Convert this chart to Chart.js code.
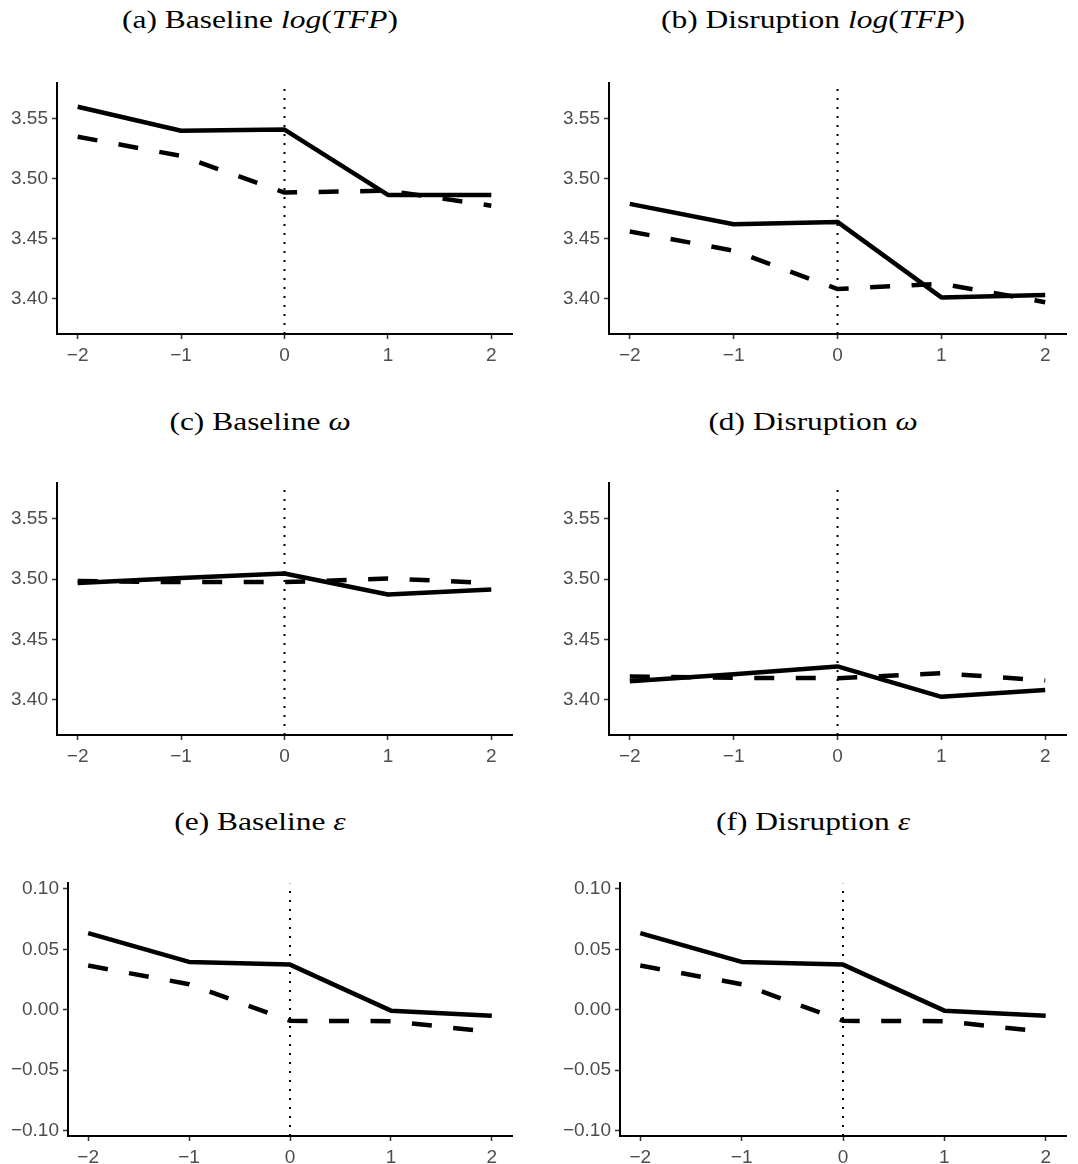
<!DOCTYPE html>
<html>
<head>
<meta charset="utf-8">
<script src="https://cdn.jsdelivr.net/npm/chart.js@4"></script>
<style>
  body { margin: 0; width: 1078px; height: 1164px; overflow: hidden; background: #fff; position: relative; }
  canvas { position: absolute; }
  .title { position: absolute; font-family: "Liberation Serif", serif; font-size: 26px; color: #000; white-space: nowrap; transform: translateX(-50%) scaleX(1.21); line-height: 30px; }
</style>
</head>
<body>
<script>
// event time
const eventTime = [-2, -1, 0, 1, 2]

// (a) baseline log(TFP)
const baseTfpSolid = [3.560, 3.540, 3.541, 3.4865, 3.4865]
const baseTfpDashed = [3.535, 3.519, 3.4885, 3.490, 3.4775]
// (b) disruption log(TFP)
const disrTfpSolid = [3.479, 3.462, 3.464, 3.401, 3.403]
const disrTfpDashed = [3.456, 3.440, 3.408, 3.4125, 3.397]
// (c) baseline omega
const baseOmegaSolid = [3.4967, 3.501, 3.5046, 3.4872, 3.4913]
const baseOmegaDashed = [3.4984, 3.4975, 3.4975, 3.5005, 3.4967]
// (d) disruption omega
const disrOmegaSolid = [3.4152, 3.421, 3.4275, 3.4022, 3.4079]
const disrOmegaDashed = [3.419, 3.418, 3.4177, 3.4218, 3.4157]
// (e) baseline epsilon
const baseEpsSolid = [0.0633, 0.0395, 0.0373, -0.0008, -0.0051]
const baseEpsDashed = [0.0365, 0.0211, -0.0092, -0.0095, -0.0185]
// (f) disruption epsilon
const disrEpsSolid = [0.0633, 0.0395, 0.0373, -0.0008, -0.0051]
const disrEpsDashed = [0.0365, 0.0211, -0.0092, -0.0095, -0.0185]

// tick labels
const xTicks = [-2, -1, 0, 1, 2]
const levelTicks = [3.40, 3.45, 3.50, 3.55]
const epsTicks = [-0.10, -0.05, 0.00, 0.05, 0.10]
const levelRange = [3.3705, 3.5795]
const epsRange = [-0.1045, 0.1045]

const panels = [
  { title: '(a) Baseline <i>log</i>(<i>TFP</i>)', solid: baseTfpSolid, dashed: baseTfpDashed, ticks: levelTicks, range: levelRange,
    box: { x0: 0, l: 57, r: 512, t: 78, b: 334 }, tx: 260, ty: 5 },
  { title: '(b) Disruption <i>log</i>(<i>TFP</i>)', solid: disrTfpSolid, dashed: disrTfpDashed, ticks: levelTicks, range: levelRange,
    box: { x0: 540, l: 609, r: 1066, t: 78, b: 334 }, tx: 813, ty: 5 },
  { title: '(c) Baseline <i>ω</i>', solid: baseOmegaSolid, dashed: baseOmegaDashed, ticks: levelTicks, range: levelRange,
    box: { x0: 0, l: 57, r: 512, t: 478, b: 735 }, tx: 260, ty: 407 },
  { title: '(d) Disruption <i>ω</i>', solid: disrOmegaSolid, dashed: disrOmegaDashed, ticks: levelTicks, range: levelRange,
    box: { x0: 540, l: 609, r: 1066, t: 478, b: 735 }, tx: 813, ty: 407 },
  { title: '(e) Baseline <i>ε</i>', solid: baseEpsSolid, dashed: baseEpsDashed, ticks: epsTicks, range: epsRange,
    box: { x0: 0, l: 68, r: 512, t: 878, b: 1136 }, tx: 260, ty: 807 },
  { title: '(f) Disruption <i>ε</i>', solid: disrEpsSolid, dashed: disrEpsDashed, ticks: epsTicks, range: epsRange,
    box: { x0: 540, l: 620, r: 1066, t: 878, b: 1136 }, tx: 813, ty: 807 }
]

const fmtNum = (v, d) => (v < 0 ? '\u2212' : '') + Math.abs(v).toFixed(d)
const pad = 10
const xAxisH = 28

panels.forEach(p => {
  const t = document.createElement('div')
  t.className = 'title'
  t.innerHTML = p.title
  t.style.left = p.tx + 'px'
  t.style.top = p.ty + 'px'
  document.body.appendChild(t)

  const b = p.box
  const c = document.createElement('canvas')
  const w = b.r - b.x0 + pad, h = b.b + xAxisH - (b.t - pad)
  c.width = w; c.height = h
  c.style.left = b.x0 + 'px'; c.style.top = (b.t - pad) + 'px'
  c.style.width = w + 'px'; c.style.height = h + 'px'
  document.body.appendChild(c)

  const pts = arr => eventTime.map((x, i) => ({ x: x, y: arr[i] }))
  const axisFont = { family: 'Liberation Sans', size: 19 }

  new Chart(c.getContext('2d'), {
    type: 'line',
    data: {
      datasets: [
        { data: pts(p.solid), borderColor: '#000', borderWidth: 4.5, pointRadius: 0, tension: 0, borderJoinStyle: 'round' },
        { data: pts(p.dashed), borderColor: '#000', borderWidth: 4.5, pointRadius: 0, tension: 0, borderDash: [20, 21.5] },
        { data: [{ x: 0, y: p.range[0] }, { x: 0, y: p.range[1] }], borderColor: '#000', borderWidth: 2, pointRadius: 0, borderDash: [2, 7] }
      ]
    },
    options: {
      responsive: false, animation: false, events: [],
      plugins: { legend: { display: false }, tooltip: { enabled: false } },
      layout: { padding: { top: pad, right: pad, left: 0, bottom: 0 } },
      scales: {
        x: {
          type: 'linear', min: -2.2, max: 2.2,
          afterBuildTicks: s => { s.ticks = xTicks.map(v => ({ value: v })) },
          afterFit: s => { s.height = xAxisH },
          ticks: { callback: v => fmtNum(v, 0), color: '#4d4d4d', font: axisFont, padding: 5, autoSkip: false, maxRotation: 0 },
          grid: { drawOnChartArea: false, tickLength: 5, tickColor: '#333', tickWidth: 1.5 },
          border: { color: '#000', width: 2 }
        },
        y: {
          type: 'linear', min: p.range[0], max: p.range[1],
          afterBuildTicks: s => { s.ticks = p.ticks.map(v => ({ value: v })) },
          afterFit: s => { s.width = b.l - b.x0 },
          ticks: { callback: v => fmtNum(v, 2), color: '#4d4d4d', font: axisFont, padding: 4, autoSkip: false },
          grid: { drawOnChartArea: false, tickLength: 5, tickColor: '#333', tickWidth: 1.5 },
          border: { color: '#000', width: 2 }
        }
      }
    }
  })
})
</script>
</body>
</html>
